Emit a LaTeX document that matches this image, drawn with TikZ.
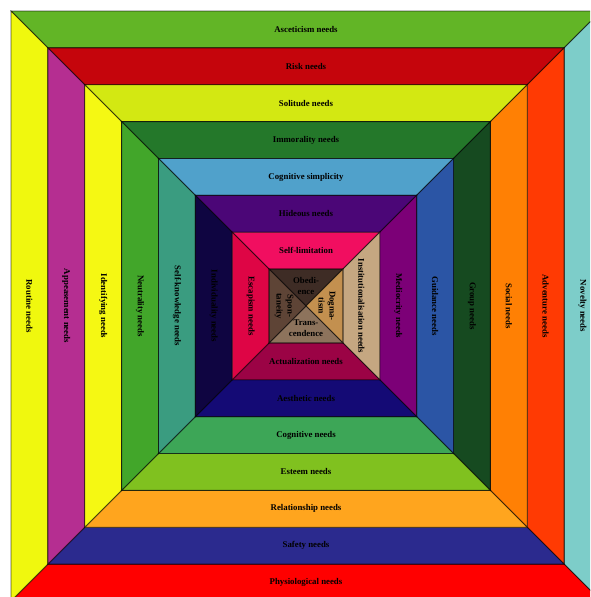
\documentclass[tikz,border=0pt]{standalone}
\usepackage{fontspec}
\setmainfont{Liberation Serif}
\definecolor{aT}{HTML}{62B526}\definecolor{aR}{HTML}{7DCDC9}\definecolor{aB}{HTML}{FF0000}\definecolor{aL}{HTML}{F0F80E}
\definecolor{bT}{HTML}{C5050C}\definecolor{bR}{HTML}{FF3A03}\definecolor{bB}{HTML}{2B2A8E}\definecolor{bL}{HTML}{B52E91}
\definecolor{cT}{HTML}{D3E812}\definecolor{cR}{HTML}{FF8004}\definecolor{cB}{HTML}{FFA51E}\definecolor{cL}{HTML}{F5F813}
\definecolor{dT}{HTML}{24782A}\definecolor{dR}{HTML}{164A20}\definecolor{dB}{HTML}{80C11F}\definecolor{dL}{HTML}{42A62A}
\definecolor{eT}{HTML}{50A1CB}\definecolor{eR}{HTML}{2B55A5}\definecolor{eB}{HTML}{3DA657}\definecolor{eL}{HTML}{3A9C80}
\definecolor{fT}{HTML}{4B0677}\definecolor{fR}{HTML}{7C0077}\definecolor{fB}{HTML}{140A75}\definecolor{fL}{HTML}{0F0541}
\definecolor{gT}{HTML}{F10E60}\definecolor{gR}{HTML}{C5A781}\definecolor{gB}{HTML}{9B0345}\definecolor{gL}{HTML}{DE0545}
\definecolor{hT}{HTML}{3E2C25}\definecolor{hR}{HTML}{C3904F}\definecolor{hB}{HTML}{8D735C}\definecolor{hL}{HTML}{5E4436}
\tikzset{
  ringedge/.style={draw=black, draw opacity=0.65, line width=0.8pt, line join=miter},
  lab/.style={font=\fontsize{8.8}{11}\selectfont\bfseries, text=black, inner sep=0pt, align=center},
  sidelab/.style={lab, rotate=-90}
}
\newcommand{\needring}[9]{%
  \pgfmathsetmacro{\ra}{295-36.875*#1}%
  \pgfmathsetmacro{\rb}{295-36.875*(#1+1)}%
  \pgfmathsetmacro{\rmid}{(\ra+\rb)/2}%
  \filldraw[ringedge, fill=#2] (-\ra,-\ra) -- (\ra,-\ra) -- (\rb,-\rb) -- (-\rb,-\rb) -- cycle;
  \filldraw[ringedge, fill=#3] (\ra,-\ra) -- (\ra,\ra) -- (\rb,\rb) -- (\rb,-\rb) -- cycle;
  \filldraw[ringedge, fill=#4] (\ra,\ra) -- (-\ra,\ra) -- (-\rb,\rb) -- (\rb,\rb) -- cycle;
  \filldraw[ringedge, fill=#5] (-\ra,\ra) -- (-\ra,-\ra) -- (-\rb,-\rb) -- (-\rb,\rb) -- cycle;
  \node[lab] (top#1) at (0,-\rmid) {#6};
  \node[sidelab] (right#1) at (\rmid,0) {#7};
  \node[lab] (bottom#1) at (0,\rmid) {#8};
  \node[sidelab] (left#1) at (-\rmid,0) {#9};
}
\begin{document}
\begin{tikzpicture}[x=1pt, y=-1pt]
\clip (0,0) rectangle (590,597);
\fill[white] (0,0) rectangle (590,597);
\begin{scope}[shift={(306,306)}]
\needring{0}{aT}{aR}{aB}{aL}{Asceticism needs}{Novelty needs}{Physiological needs}{Routine needs}
\needring{1}{bT}{bR}{bB}{bL}{Risk needs}{Adventure needs}{Safety needs}{Appeasement needs}
\needring{2}{cT}{cR}{cB}{cL}{Solitude needs}{Social needs}{Relationship needs}{Identifying needs}
\needring{3}{dT}{dR}{dB}{dL}{Immorality needs}{Group needs}{Esteem needs}{Neutrality needs}
\needring{4}{eT}{eR}{eB}{eL}{Cognitive simplicity}{Guidance needs}{Cognitive needs}{Self-knowledge needs}
\needring{5}{fT}{fR}{fB}{fL}{Hideous needs}{Mediocrity needs}{Aesthetic needs}{Individuality needs}
\needring{6}{gT}{gR}{gB}{gL}{Self-limitation}{Institutionalisation needs}{Actualization needs}{Escapism needs}
\def\rc{36.875}
\filldraw[ringedge, fill=hT] (-\rc,-\rc) -- (\rc,-\rc) -- (0,0) -- cycle;
\filldraw[ringedge, fill=hR] (\rc,-\rc) -- (\rc,\rc) -- (0,0) -- cycle;
\filldraw[ringedge, fill=hB] (\rc,\rc) -- (-\rc,\rc) -- (0,0) -- cycle;
\filldraw[ringedge, fill=hL] (-\rc,\rc) -- (-\rc,-\rc) -- (0,0) -- cycle;
\node[lab] (obed) at (0,-20) {Obedi-\\ence};
\node[sidelab] (dogm) at (21,0) {Dogma-\\tism};
\node[lab] (trans) at (0,22) {Trans-\\cendence};
\node[sidelab] (spont) at (-22,0) {Spon-\\taneity};
\end{scope}
\end{tikzpicture}
\end{document}
